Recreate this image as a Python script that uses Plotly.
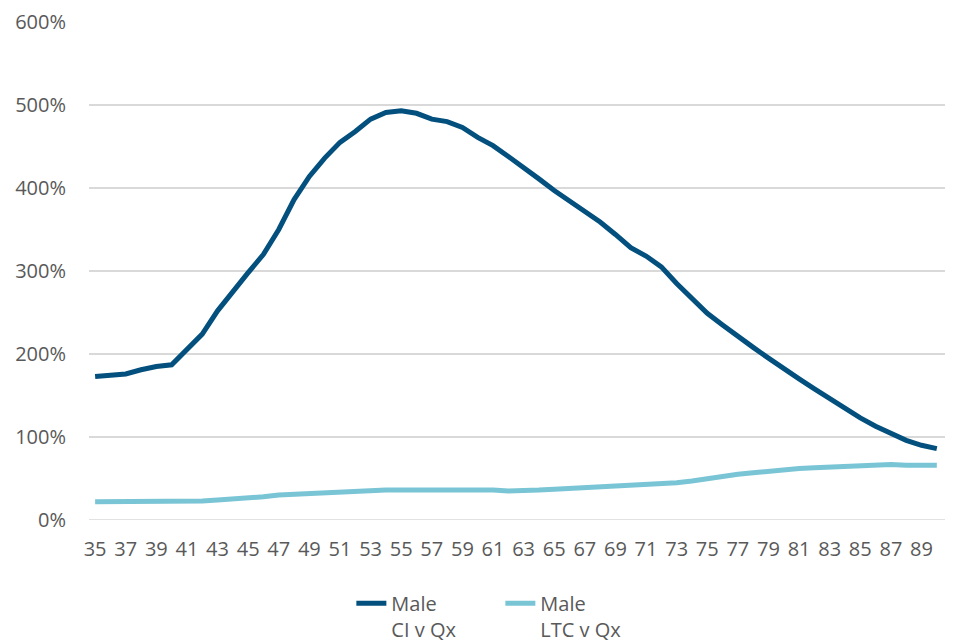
import plotly.graph_objects as go

ages = list(range(35, 91))
ci_v_qx = [173, 175, 176, 181, 185, 187, 205, 224, 252, 276, 298, 320, 350, 386, 414, 436,
           455, 468, 483, 491, 493, 490, 483, 480, 473, 461, 451, 438, 425, 411, 397, 384,
           371, 359, 344, 328, 318, 305, 285, 266, 249, 235, 221, 208, 195, 182, 170, 158,
           146, 134, 123, 113, 104, 96, 90, 86]
ltc_v_qx = [22, 22, 22, 22, 22, 22, 22, 23, 24, 25, 26, 28, 30, 31, 32, 33,
            34, 35, 35, 36, 36, 36, 37, 36, 36, 36, 36, 35, 35, 36, 37, 38,
            39, 40, 41, 42, 43, 43, 45, 47, 50, 52, 55, 57, 59, 60, 62, 63,
            64, 65, 65, 66, 67, 66, 66, 66]
x_ticks = list(range(35, 90, 2))
y_ticks = [0, 100, 200, 300, 400, 500, 600]
series_names = ["Male<br>CI v Qx", "Male<br>LTC v Qx"]
colors = ["#034F7D", "#7AC5D5"]

fig = go.Figure()
for name, vals, col in zip(series_names, [ci_v_qx, ltc_v_qx], colors):
    fig.add_trace(go.Scatter(x=ages, y=vals, mode="lines", name=name,
                             line=dict(color=col, width=5)))

fig.update_layout(
    width=945, height=635,
    margin=dict(l=81, r=7, t=14, b=123, autoexpand=False),
    plot_bgcolor="white", paper_bgcolor="white",
    font=dict(family="Open Sans, sans-serif", size=20, color="#595959"),
    showlegend=True,
    legend=dict(orientation="h", x=0.48, xanchor="center", y=-0.128, yanchor="top",
                font=dict(size=20, color="#595959"), valign="top",
                entrywidth=104, entrywidthmode="pixels", tracegroupgap=0),
    xaxis=dict(range=[34.6, 90.6], tickmode="array", tickvals=x_ticks,
               ticktext=[str(v) for v in x_ticks], showgrid=False, zeroline=False,
               showline=False, ticks="", ticklabelstandoff=15,
               tickfont=dict(size=20, color="#595959")),
    yaxis=dict(range=[0, 600], tickmode="array", tickvals=y_ticks,
               ticktext=[f"{v}%" for v in y_ticks], showgrid=True,
               gridcolor="#D9D9D9", gridwidth=1.5, zeroline=False, showline=False,
               ticks="", ticklabelstandoff=22, tickfont=dict(size=20, color="#595959")),
)
fig.add_hline(y=0, line=dict(color="#D9D9D9", width=1.5), layer="below")

fig.write_html("out.html")
